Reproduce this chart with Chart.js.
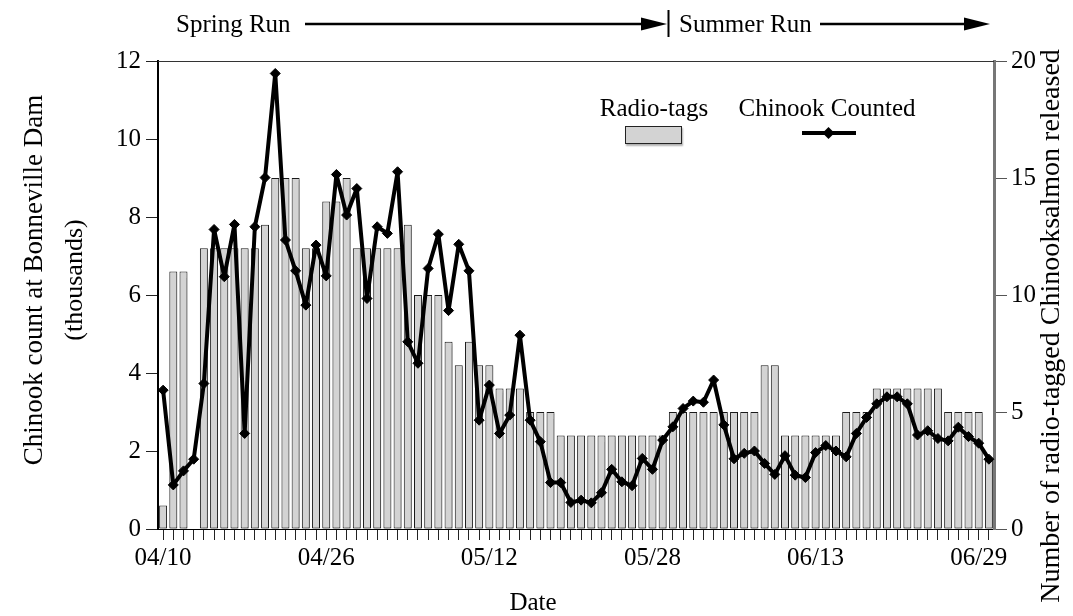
<!DOCTYPE html>
<html>
<head>
<meta charset="utf-8">
<script src="https://cdn.jsdelivr.net/npm/chart.js@4.4.1/dist/chart.umd.min.js"></script>
<style>
html,body{margin:0;padding:0;background:#fff;}
#wrap{width:1073px;height:616px;position:relative;}
</style>
</head>
<body>
<div id="wrap"><canvas id="c"></canvas></div>
<script>
const categories = [
  "04/10","04/11","04/12","04/13","04/14","04/15","04/16","04/17","04/18","04/19","04/20",
  "04/21","04/22","04/23","04/24","04/25","04/26","04/27","04/28","04/29","04/30",
  "05/01","05/02","05/03","05/04","05/05","05/06","05/07","05/08","05/09","05/10",
  "05/11","05/12","05/13","05/14","05/15","05/16","05/17","05/18","05/19","05/20",
  "05/21","05/22","05/23","05/24","05/25","05/26","05/27","05/28","05/29","05/30","05/31",
  "06/01","06/02","06/03","06/04","06/05","06/06","06/07","06/08","06/09","06/10",
  "06/11","06/12","06/13","06/14","06/15","06/16","06/17","06/18","06/19","06/20",
  "06/21","06/22","06/23","06/24","06/25","06/26","06/27","06/28","06/29","06/30"
];
// Chinook counted at Bonneville Dam (thousands)
const chinookCounted = [
  3.56,1.13,1.49,1.79,3.73,7.68,6.47,7.81,2.45,7.75,
  9.01,11.68,7.41,6.62,5.74,7.28,6.49,9.09,8.05,8.73,
  5.91,7.75,7.58,9.16,4.80,4.25,6.68,7.56,5.60,7.30,
  6.62,2.79,3.69,2.45,2.92,4.97,2.79,2.24,1.19,1.19,
  0.68,0.74,0.67,0.93,1.53,1.21,1.11,1.81,1.53,2.28,
  2.62,3.09,3.28,3.25,3.82,2.67,1.80,1.94,2.00,1.68,
  1.40,1.88,1.38,1.32,1.96,2.14,2.00,1.85,2.45,2.86,
  3.21,3.39,3.39,3.21,2.41,2.52,2.32,2.26,2.61,2.37,
  2.20,1.79
];
// Number of radio-tagged Chinook salmon released
const radioTags = [
  1,11,11,0,12,12,12,12,12,12,
  13,15,15,15,12,12,14,14,15,12,
  12,12,12,12,13,10,10,10,8,7,
  8,7,7,6,6,6,5,5,5,4,
  4,4,4,4,4,4,4,4,4,4,
  5,5,5,5,5,5,5,5,5,7,
  7,4,4,4,4,4,4,5,5,5,
  6,6,6,6,6,6,6,5,5,5,
  5,3
];
const xTickLabels = ["04/10","04/26","05/12","05/28","06/13","06/29"];
const leftTitle = ["Chinook count at Bonneville Dam", "(thousands)"];
const rightTitle = "Number of radio-tagged Chinooksalmon released";
const xTitle = "Date";
const runLabels = ["Spring Run", "Summer Run"];
const legendLabels = ["Radio-tags", "Chinook Counted"];

const FONT = "'Liberation Serif','Times New Roman',serif";
const FS = 25;

const barShadow = {
  id: 'barShadow',
  beforeDatasetDraw(chart, args) {
    if (args.meta.type === 'bar') {
      const ctx = chart.ctx;
      ctx.save();
      ctx.shadowColor = 'rgba(0,0,0,0.28)';
      ctx.shadowOffsetX = 1;
      ctx.shadowOffsetY = 2;
      ctx.shadowBlur = 1.5;
    }
  },
  afterDatasetDraw(chart, args) {
    if (args.meta.type === 'bar') chart.ctx.restore();
  }
};

const decor = {
  id: 'decor',
  afterDraw(chart) {
    const ctx = chart.ctx;
    const a = chart.chartArea;
    ctx.save();
    // top frame line
    ctx.strokeStyle = '#333';
    ctx.lineWidth = 1;
    ctx.beginPath();
    ctx.moveTo(a.left, a.top + 0.5);
    ctx.lineTo(a.right, a.top + 0.5);
    ctx.stroke();

    ctx.fillStyle = '#000';
    ctx.strokeStyle = '#000';
    ctx.font = FS + 'px ' + FONT;
    ctx.textBaseline = 'alphabetic';
    ctx.textAlign = 'left';
    // run annotations
    const arrowY = 24;
    function arrow(x1, x2) {
      ctx.lineWidth = 2.5;
      ctx.beginPath();
      ctx.moveTo(x1, arrowY);
      ctx.lineTo(x2 - 20, arrowY);
      ctx.stroke();
      ctx.beginPath();
      ctx.moveTo(x2 - 26, arrowY - 6.5);
      ctx.lineTo(x2, arrowY);
      ctx.lineTo(x2 - 26, arrowY + 6.5);
      ctx.closePath();
      ctx.fill();
    }
    ctx.fillText(runLabels[0], 176, 32);
    arrow(305, 667);
    ctx.lineWidth = 2;
    ctx.beginPath();
    ctx.moveTo(668.5, 10);
    ctx.lineTo(668.5, 37);
    ctx.stroke();
    ctx.fillText(runLabels[1], 679, 32);
    arrow(820, 990);

    // legend
    ctx.textAlign = 'center';
    ctx.fillText(legendLabels[0], 654, 116);
    ctx.fillText(legendLabels[1], 827, 116);
    ctx.save();
    ctx.shadowColor = 'rgba(0,0,0,0.3)';
    ctx.shadowOffsetX = 1;
    ctx.shadowOffsetY = 2;
    ctx.shadowBlur = 1.5;
    ctx.fillStyle = '#d3d3d3';
    ctx.fillRect(625, 126, 57, 18);
    ctx.restore();
    ctx.strokeStyle = '#222';
    ctx.lineWidth = 1;
    ctx.strokeRect(625.5, 126.5, 56, 17);
    ctx.strokeStyle = '#000';
    ctx.lineWidth = 4;
    ctx.beginPath();
    ctx.moveTo(802, 133);
    ctx.lineTo(856, 133);
    ctx.stroke();
    ctx.beginPath();
    ctx.moveTo(822.5, 133);
    ctx.lineTo(828.5, 127);
    ctx.lineTo(834.5, 133);
    ctx.lineTo(828.5, 139);
    ctx.closePath();
    ctx.fill();

    // axis titles
    ctx.fillStyle = '#000';
    ctx.textBaseline = 'middle';
    ctx.textAlign = 'center';
    ctx.save();
    ctx.translate(35, 280);
    ctx.rotate(-Math.PI / 2);
    ctx.font = '27px ' + FONT;
    ctx.fillText(leftTitle[0], 0, 0);
    ctx.font = '26px ' + FONT;
    ctx.fillText(leftTitle[1], 0, 40);
    ctx.restore();
    ctx.save();
    ctx.translate(1052, 326);
    ctx.rotate(-Math.PI / 2);
    ctx.font = '28px ' + FONT;
    ctx.fillText(rightTitle, 0, 0);
    ctx.restore();
    ctx.fillText(xTitle, 533, 603);
    ctx.restore();
  }
};

new Chart(document.getElementById('c'), {
  data: {
    labels: categories,
    datasets: [
      {
        type: 'line',
        label: legendLabels[1],
        data: chinookCounted,
        yAxisID: 'y',
        borderColor: '#000',
        backgroundColor: '#000',
        borderWidth: 4,
        borderJoinStyle: 'round',
        borderCapStyle: 'round',
        pointStyle: 'rectRot',
        pointRadius: 5,
        pointBorderWidth: 1,
        pointBackgroundColor: '#000',
        pointBorderColor: '#000',
        tension: 0,
        fill: false,
        clip: false,
        order: 0
      },
      {
        type: 'bar',
        label: legendLabels[0],
        data: radioTags,
        yAxisID: 'y1',
        backgroundColor: '#d3d3d3',
        borderColor: '#1a1a1a',
        borderWidth: 1,
        borderSkipped: false,
        barPercentage: 0.78,
        categoryPercentage: 1.0,
        order: 1
      }
    ]
  },
  options: {
    responsive: true,
    maintainAspectRatio: false,
    animation: false,
    devicePixelRatio: 1,
    layout: { padding: { top: 61, left: 0, right: 0, bottom: 0 } },
    plugins: { legend: { display: false }, tooltip: { enabled: false } },
    scales: {
      x: {
        type: 'category',
        offset: true,
        grid: { offset: false, drawOnChartArea: false, drawTicks: true, tickLength: 11, color: '#222', lineWidth: 1 },
        border: { display: true, color: '#000', width: 1 },
        ticks: {
          autoSkip: false, maxRotation: 0, minRotation: 0, padding: 3, color: '#000',
          font: { family: FONT, size: FS },
          callback: function (v) {
            const l = this.getLabelForValue(v);
            return xTickLabels.includes(l) ? l : '';
          }
        },
        afterFit(s) { s.height = 87; }
      },
      y: {
        position: 'left', min: 0, max: 12,
        ticks: { stepSize: 2, padding: 5, color: '#000', font: { family: FONT, size: FS } },
        grid: { drawOnChartArea: false, tickLength: 12, color: '#222' },
        border: { display: true, color: '#000', width: 2 },
        afterFit(s) { s.width = 158; }
      },
      y1: {
        position: 'right', min: 0, max: 20,
        ticks: { stepSize: 5, padding: 4, color: '#000', font: { family: FONT, size: FS } },
        grid: { drawOnChartArea: false, tickLength: 13, color: '#555' },
        border: { display: true, color: '#777', width: 3 },
        afterFit(s) { s.width = 79; }
      }
    }
  },
  plugins: [barShadow, decor]
});
</script>
</body>
</html>
